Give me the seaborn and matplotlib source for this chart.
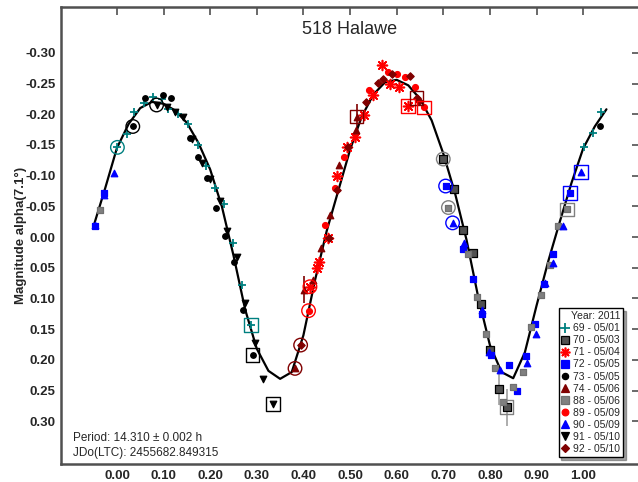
import matplotlib
matplotlib.use("Agg")
import matplotlib.pyplot as plt
from matplotlib.lines import Line2D
import pandas as pd
import seaborn as sns

# CURVA DE AJUSTE
fase_curva = [-0.05, -0.025, 0.0, 0.025, 0.05, 0.075, 0.1, 0.125, 0.15, 0.175, 0.2, 0.225,
              0.25, 0.275, 0.3, 0.325, 0.35, 0.375, 0.4, 0.425, 0.45, 0.475, 0.5, 0.525,
              0.55, 0.575, 0.6, 0.625, 0.65, 0.675, 0.7, 0.725, 0.75, 0.775, 0.8, 0.825,
              0.85, 0.875, 0.9, 0.925, 0.95, 0.975, 1.0, 1.025, 1.05]
mag_curva = [-0.018, -0.080, -0.145, -0.184, -0.210, -0.220, -0.217, -0.206, -0.186, -0.153,
             -0.110, -0.050, 0.030, 0.118, 0.182, 0.218, 0.231, 0.220, 0.160, 0.070,
             -0.010, -0.076, -0.142, -0.196, -0.232, -0.252, -0.256, -0.247, -0.225, -0.190,
             -0.136, -0.072, 0.005, 0.098, 0.176, 0.220, 0.230, 0.188, 0.112, 0.040,
             -0.025, -0.088, -0.144, -0.180, -0.208]

# SESIONES (fase, magnitud)
s69_fase = [0.001, 0.021, 0.036, 0.058, 0.078, 0.096, 0.110, 0.132, 0.153, 0.174, 0.192, 0.210,
            0.230, 0.248, 0.268, 0.287, 1.001, 1.021, 1.038]
s69_mag = [-0.146, -0.168, -0.204, -0.219, -0.228, -0.224, -0.209, -0.201, -0.184, -0.150, -0.115,
           -0.080, -0.054, 0.010, 0.078, 0.143, -0.147, -0.169, -0.204]

s70_fase = [0.700, 0.723, 0.742, 0.763, 0.781, 0.800, 0.819, 0.836]
s70_mag = [-0.127, -0.078, -0.011, 0.026, 0.109, 0.184, 0.248, 0.277]

s71_fase = [0.414, 0.430, 0.434, 0.453, 0.471, 0.493, 0.511, 0.529, 0.550, 0.568, 0.586, 0.606, 0.624]
s71_mag = [0.081, 0.051, 0.040, 0.002, -0.099, -0.146, -0.163, -0.199, -0.231, -0.280, -0.250, -0.244, -0.213]

s72_fase = [-0.047, -0.027, 0.705, 0.743, 0.763, 0.783, 0.802, 0.840, 0.859, 0.878, 0.897, 0.916, 0.935, 0.972]
s72_mag = [-0.018, -0.071, -0.083, 0.020, 0.068, 0.126, 0.192, 0.208, 0.250, 0.194, 0.142, 0.077, 0.028, -0.072]

s73_fase = [0.034, 0.060, 0.098, 0.117, 0.157, 0.174, 0.194, 0.212, 0.232, 0.251, 0.271, 0.291, 1.036]
s73_mag = [-0.180, -0.226, -0.231, -0.227, -0.162, -0.130, -0.096, -0.047, -0.001, 0.041, 0.119, 0.192, -0.181]

s74_fase = [0.382, 0.401, 0.420, 0.437, 0.457, 0.477, 0.513, 0.514]
s74_mag = [0.214, 0.086, 0.070, 0.018, -0.036, -0.117, -0.174, -0.196]

s88_fase = [-0.036, 0.711, 0.754, 0.773, 0.792, 0.812, 0.829, 0.850, 0.871, 0.888, 0.909, 0.928, 0.946, 0.965]
s88_mag = [-0.044, -0.048, 0.027, 0.097, 0.158, 0.214, 0.268, 0.245, 0.220, 0.147, 0.094, 0.046, -0.018, -0.045]

s89_fase = [0.411, 0.446, 0.468, 0.486, 0.541, 0.582, 0.600, 0.618, 0.639, 0.659]
s89_mag = [0.120, -0.020, -0.079, -0.130, -0.239, -0.269, -0.266, -0.260, -0.244, -0.211]

s90_fase = [-0.047, -0.027, -0.006, 0.720, 0.745, 0.783, 0.799, 0.822, 0.879, 0.899, 0.918, 0.936, 0.956, 0.995]
s90_mag = [-0.020, -0.069, -0.105, -0.023, 0.010, 0.119, 0.188, 0.217, 0.206, 0.158, 0.075, 0.043, -0.018, -0.106]

s91_fase = [0.085, 0.107, 0.124, 0.142, 0.162, 0.182, 0.199, 0.221, 0.237, 0.257, 0.275, 0.296, 0.314, 0.335]
s91_mag = [-0.215, -0.211, -0.204, -0.195, -0.159, -0.121, -0.095, -0.059, -0.009, 0.032, 0.108, 0.173, 0.232, 0.272]

s92_fase = [0.394, 0.455, 0.473, 0.495, 0.534, 0.561, 0.571, 0.589, 0.629, 0.643, 0.649]
s92_mag = [0.176, 0.002, -0.077, -0.146, -0.220, -0.251, -0.258, -0.265, -0.262, -0.226, -0.222]

# puntos marcados (primer punto de cada sesion)
marca_fase = [0.001, 0.034, 0.085, 0.287, 0.291, 0.335, 0.382, 0.394, 0.411, 0.414, 0.514,
              0.624, 0.643, 0.659, 0.700, 0.705, 0.711, 0.720, 0.836, 0.965, 0.972, 0.995]
marca_mag = [-0.146, -0.180, -0.215, 0.143, 0.192, 0.272, 0.214, 0.176, 0.120, 0.081, -0.196,
             -0.213, -0.226, -0.211, -0.127, -0.083, -0.048, -0.023, 0.277, -0.045, -0.072, -0.106]
marca_forma = ['o', 'o', 'o', 's', 's', 's', 'o', 'o', 'o', 'o', 's',
               's', 's', 's', 'o', 'o', 'o', 'o', 's', 's', 's', 's']
marca_color = ['#008080', 'black', 'black', '#008080', 'black', 'black', '#800000', '#800000', 'red', 'red', '#800000',
               'red', '#800000', 'red', 'gray', 'blue', 'gray', 'blue', 'gray', 'gray', 'blue', 'blue']

# barras de error
err_fase = [0.401, 0.514, 0.819, 0.836]
err_mag = [0.086, -0.196, 0.248, 0.277]
err_tam = [0.022, 0.020, 0.025, 0.030]
err_color = ['#800000', '#800000', '#a0a0a0', '#a0a0a0']

# nombre, fase, mag, marcador, relleno, borde, tamaño en grafico, tamaño en leyenda
sesiones = [
    ("69 - 05/01", s69_fase, s69_mag, 'P', '#008080', '#008080', 38, 7),
    ("70 - 05/03", s70_fase, s70_mag, 's', '#505050', 'black', 26, 5.5),
    ("71 - 05/04", s71_fase, s71_mag, (8, 2, 0), 'red', 'red', 50, 7),
    ("72 - 05/05", s72_fase, s72_mag, 's', 'blue', 'blue', 24, 5.5),
    ("73 - 05/05", s73_fase, s73_mag, 'o', 'black', 'black', 16, 4.5),
    ("74 - 05/06", s74_fase, s74_mag, '^', '#800000', '#800000', 22, 5.5),
    ("88 - 05/06", s88_fase, s88_mag, 's', '#808080', '#707070', 24, 5.5),
    ("89 - 05/09", s89_fase, s89_mag, 'o', 'red', 'red', 18, 4.8),
    ("90 - 05/09", s90_fase, s90_mag, '^', 'blue', 'blue', 22, 5.5),
    ("91 - 05/10", s91_fase, s91_mag, 'v', 'black', 'black', 22, 5.5),
    ("92 - 05/10", s92_fase, s92_mag, 'D', '#800000', '#800000', 14, 4.0),
]

sns.set_style("white")
plt.rcParams['font.family'] = ['Liberation Sans', 'DejaVu Sans']

fig = plt.figure(figsize=(6.38, 4.82), dpi=100)
ax = fig.add_axes([61 / 638, 18 / 482, 579 / 638, 457 / 482])

# curva
curva = pd.DataFrame({'fase': fase_curva, 'mag': mag_curva})
sns.lineplot(data=curva, x='fase', y='mag', color='black', linewidth=1.6, ax=ax, sort=False, zorder=2)

# barras de error
for x, y, e, c in zip(err_fase, err_mag, err_tam, err_color):
    ax.errorbar(x, y, yerr=e, fmt='none', ecolor=c, elinewidth=1.2, capsize=0, zorder=1)

# puntos
handles = []
for nombre, fase, mag, marcador, color, borde, tam, tam_ley in sesiones:
    df = pd.DataFrame({'fase': fase, 'mag': mag})
    if marcador == 'P':
        sns.scatterplot(data=df, x='fase', y='mag', marker='+', color=color, s=tam,
                        linewidth=1.3, ax=ax, zorder=3)
        h = Line2D([], [], marker='+', color=color, linestyle='none', markersize=tam_ley, markeredgewidth=1.3)
    elif isinstance(marcador, tuple):
        sns.scatterplot(data=df, x='fase', y='mag', marker=marcador, color=color, s=tam,
                        linewidth=1.2, ax=ax, zorder=3)
        h = Line2D([], [], marker=marcador, color=color, linestyle='none', markersize=tam_ley, markeredgewidth=1.2)
    else:
        sns.scatterplot(data=df, x='fase', y='mag', marker=marcador, color=color, s=tam,
                        edgecolor=borde, linewidth=0.9, ax=ax, zorder=3)
        h = Line2D([], [], marker=marcador, markerfacecolor=color, markeredgecolor=borde,
                   markeredgewidth=0.9, linestyle='none', markersize=tam_ley)
    handles.append((h, nombre))

# marcas de inicio de sesion
for x, y, f, c in zip(marca_fase, marca_mag, marca_forma, marca_color):
    ax.scatter(x, y, marker=f, s=95, facecolors='none', edgecolors=c, linewidths=1.0, zorder=4)

# ejes
ax.set_xlim(-0.12, 1.122)
ax.set_ylim(0.3697, -0.3746)
ax.set_xticks([0.0, 0.1, 0.2, 0.3, 0.4, 0.5, 0.6, 0.7, 0.8, 0.9, 1.0])
ax.set_yticks([-0.30, -0.25, -0.20, -0.15, -0.10, -0.05, 0.0, 0.05, 0.10, 0.15, 0.20, 0.25, 0.30])
ax.set_xticklabels([f"{v:.2f}" for v in ax.get_xticks()], fontweight='bold', fontsize=9.5)
ax.set_yticklabels([f"{v:.2f}" for v in ax.get_yticks()], fontweight='bold', fontsize=9.5)
ax.tick_params(direction='in', length=6, width=1.2, color='#505050', top=True, right=True, pad=4)
for lado in ax.spines.values():
    lado.set_color('#505050')
    lado.set_linewidth(1.8)
ax.set_xlabel("")
ax.set_ylabel("Magnitude alpha(7.1°)", fontweight='bold', fontsize=9.5)
ax.yaxis.set_label_coords(-0.058, 0.5)

fig.text(350 / 638, 1 - 30 / 482, "518 Halawe", ha='center', va='center', fontsize=13)
ax.text(0.021, 0.012, "Period: 14.310 ± 0.002 h\nJDo(LTC): 2455682.849315", transform=ax.transAxes,
        fontsize=8.5, ha='left', va='bottom', linespacing=1.25)

leg = ax.legend([h for h, n in handles], [n for h, n in handles], title="Year: 2011",
                loc='lower right', bbox_to_anchor=(0.971, 0.015), fontsize=7.5, title_fontsize=7.5,
                frameon=True, fancybox=False, shadow=True, framealpha=1, edgecolor='black',
                handlelength=0.7, handletextpad=0.4, borderpad=0.3, labelspacing=0.2,
                borderaxespad=0)
leg._legend_box.align = "right"
leg.get_frame().set_linewidth(1.0)

plt.savefig("out.png", dpi=100)
